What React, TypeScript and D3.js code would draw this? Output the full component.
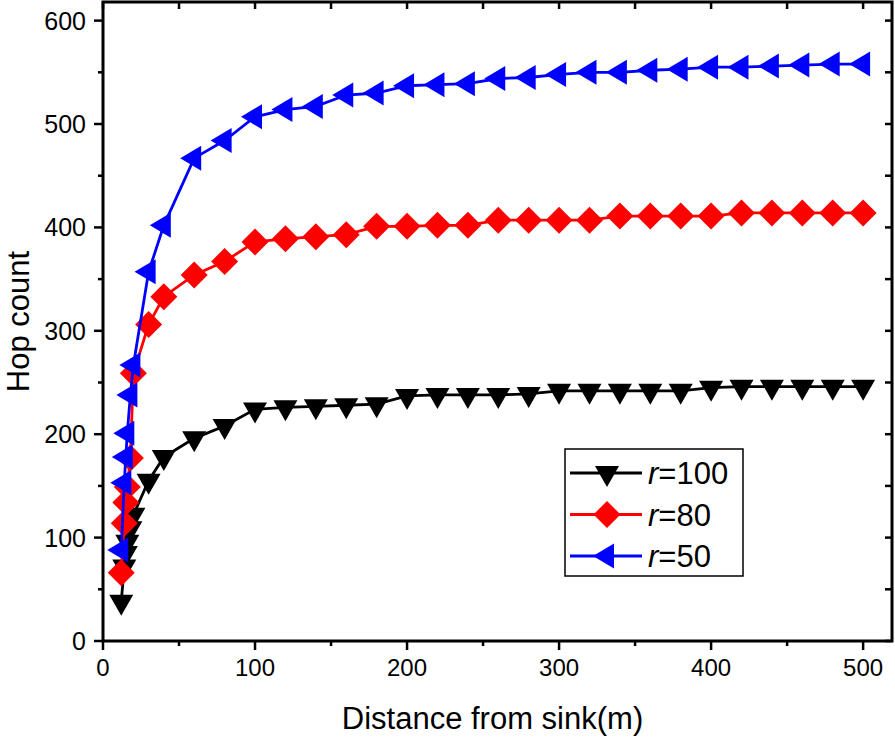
import React from "react";
import * as d3 from "d3";

const distance = [12, 14, 15, 16, 18, 20, 30, 40, 60, 80, 100, 120, 140, 160, 180, 200, 220, 240, 260, 280, 300, 320, 340, 360, 380, 400, 420, 440, 460, 480, 500];

const hopsR100 = [38, 72, 85, 96, 109, 122, 155, 178, 196, 208, 224, 226, 227, 228, 229, 237, 238, 238, 238, 239, 242, 242, 242, 242, 242, 245, 246, 246, 246, 246, 246];
const hopsR80 = [66, 114, 134, 149, 177, 259, 306, 333, 354, 367, 386, 389, 391, 393, 401, 401, 402, 402, 407, 407, 407, 407, 411, 411, 411, 411, 414, 414, 414, 414, 414];
const hopsR50 = [88, 153, 178, 201, 238, 267, 357, 402, 467, 484, 507, 514, 517, 528, 530, 537, 538, 539, 544, 545, 548, 550, 550, 552, 553, 555, 555, 556, 557, 558, 558];

const xTicks = [0, 100, 200, 300, 400, 500];
const yTicks = [0, 100, 200, 300, 400, 500, 600];

type Shape = "down" | "diamond" | "left";

const seriesList: { label: string; values: number[]; color: string; shape: Shape }[] = [
  { label: "100", values: hopsR100, color: "#000000", shape: "down" },
  { label: "80", values: hopsR80, color: "#ff0000", shape: "diamond" },
  { label: "50", values: hopsR50, color: "#0000ff", shape: "left" },
];

const W = 895;
const H = 739;
const left = 103;
const right = 892;
const top = 2;
const bottom = 641;

const FONT = "'Liberation Sans', Arial, sans-serif";

function markerPath(shape: Shape) {
  if (shape === "down") return "M-12,-7L12,-7L0,14Z";
  if (shape === "diamond") return "M0,-13.5L13.5,0L0,13.5L-13.5,0Z";
  return "M-14,0L7,-12.5L7,12.5Z";
}

export default function App() {
  const x = d3.scaleLinear().domain([0, 519]).range([left, right]);
  const y = d3.scaleLinear().domain([0, 618]).range([bottom, top]);

  const line = d3
    .line<[number, number]>()
    .x((d) => x(d[0]))
    .y((d) => y(d[1]));

  const xMinor = d3.range(0, 519, 50);
  const yMinor = d3.range(0, 618, 50);

  return (
    <svg width={W} height={H} style={{ position: "absolute", left: 0, top: 0, background: "#fff" }}>
      <rect width={W} height={H} fill="#fff" />

      {/* series */}
      {seriesList.map((s) => {
        const pts = distance.map((d, i) => [d, s.values[i]] as [number, number]);
        return (
          <g key={s.label}>
            <path d={line(pts) || ""} fill="none" stroke={s.color} strokeWidth={2.8} />
            {pts.map((p, i) => (
              <path key={i} d={markerPath(s.shape)} transform={`translate(${x(p[0])},${y(p[1])})`} fill={s.color} />
            ))}
          </g>
        );
      })}

      {/* frame */}
      <rect x={left} y={top} width={right - left} height={bottom - top} fill="none" stroke="#000" strokeWidth={3} />

      {/* bottom ticks */}
      {xMinor.map((t) => (
        <line key={"bx" + t} x1={x(t)} x2={x(t)} y1={bottom} y2={bottom + (t % 100 === 0 ? 9 : 5)} stroke="#000" strokeWidth={2.5} />
      ))}
      {/* top ticks (inward) */}
      {xMinor.map((t) => (
        <line key={"tx" + t} x1={x(t)} x2={x(t)} y1={top} y2={top + 7} stroke="#000" strokeWidth={2.5} />
      ))}
      {/* left ticks */}
      {yMinor.map((t) => (
        <line key={"ly" + t} x1={left} x2={left - (t % 100 === 0 ? 9 : 5)} y1={y(t)} y2={y(t)} stroke="#000" strokeWidth={2.5} />
      ))}
      {/* right ticks (inward) */}
      {yMinor.map((t) => (
        <line key={"ry" + t} x1={right} x2={right - 7} y1={y(t)} y2={y(t)} stroke="#000" strokeWidth={2.5} />
      ))}

      {xTicks.map((t) => (
        <text key={"xl" + t} x={x(t)} y={bottom + 35} textAnchor="middle" fontFamily={FONT} fontSize={24} fill="#000">
          {t}
        </text>
      ))}
      {yTicks.map((t) => (
        <text key={"yl" + t} x={left - 17} y={y(t) + 9} textAnchor="end" fontFamily={FONT} fontSize={25} fill="#000">
          {t}
        </text>
      ))}

      <text x={(left + right) / 2 - 5} y={729} textAnchor="middle" fontFamily={FONT} fontSize={31} fill="#000">
        Distance from sink(m)
      </text>
      <text transform={`translate(29,${(top + bottom) / 2}) rotate(-90)`} textAnchor="middle" fontFamily={FONT} fontSize={31} fill="#000">
        Hop count
      </text>

      {/* legend */}
      <g>
        <rect x={565} y={449} width={178} height={127} fill="#fff" stroke="#000" strokeWidth={1.5} />
        {seriesList.map((s, i) => {
          const ly = 473 + i * 41.5;
          return (
            <g key={"lg" + s.label}>
              <line x1={570} x2={642} y1={ly} y2={ly} stroke={s.color} strokeWidth={2.8} />
              <path d={markerPath(s.shape)} transform={`translate(607,${ly})`} fill={s.color} />
              <text x={648} y={ly + 11} fontFamily={FONT} fontSize={31} fill="#000">
                <tspan fontStyle="italic">r</tspan>
                <tspan>={s.label}</tspan>
              </text>
            </g>
          );
        })}
      </g>
    </svg>
  );
}
